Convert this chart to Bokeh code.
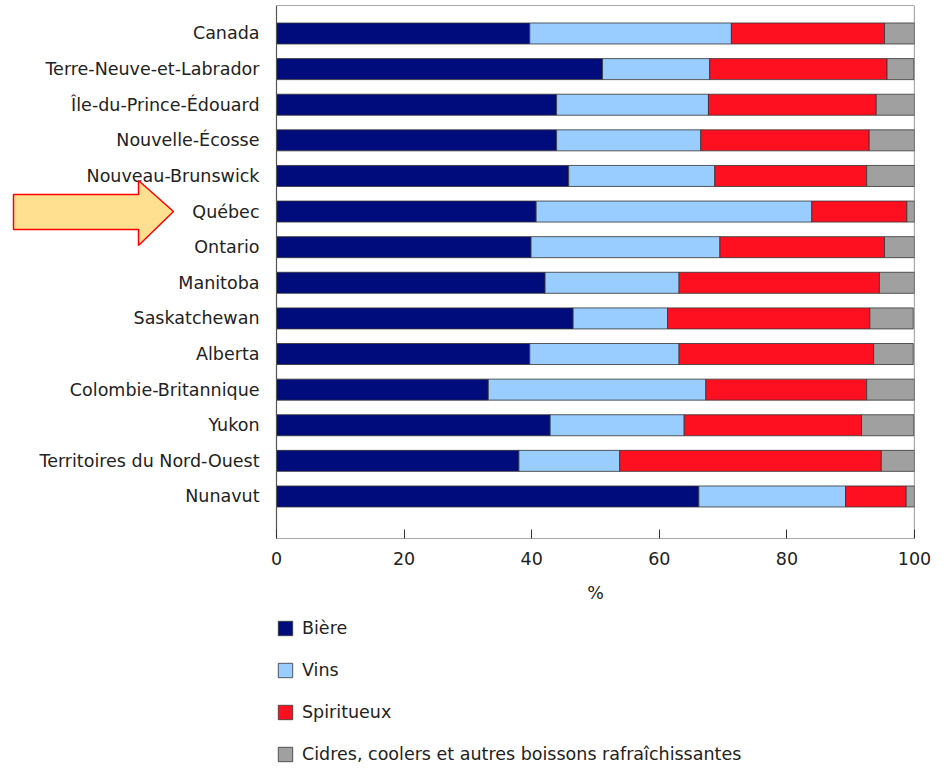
from bokeh.plotting import figure
from bokeh.layouts import column
from bokeh.models import (Range1d, FixedTicker, Legend, LegendItem, ColumnDataSource,
                          LinearAxis)
from bokeh.core.properties import value
from bokeh.embed import file_html
from bokeh.resources import INLINE

regions = ["Canada", "Terre-Neuve-et-Labrador", "Île-du-Prince-Édouard",
           "Nouvelle-Écosse", "Nouveau-Brunswick", "Québec", "Ontario", "Manitoba",
           "Saskatchewan", "Alberta", "Colombie-Britannique", "Yukon",
           "Territoires du Nord-Ouest", "Nunavut"]
biere = [39.7, 51.1, 43.9, 43.9, 45.8, 40.7, 39.9, 42.1, 46.5, 39.7, 33.2, 42.9, 38.0, 66.2]
vins = [31.6, 16.8, 23.8, 22.6, 22.9, 43.2, 29.6, 21.0, 14.8, 23.4, 34.1, 21.0, 15.8, 23.0]
spiritueux = [24.0, 27.8, 26.3, 26.4, 23.8, 14.9, 25.8, 31.4, 31.7, 30.5, 25.2, 27.8, 41.0, 9.5]
autres = [4.7, 4.2, 6.0, 7.1, 7.5, 1.2, 4.7, 5.5, 6.8, 6.2, 7.5, 8.2, 5.2, 1.3]
series_labels = ["Bière", "Vins", "Spiritueux",
                 "Cidres, coolers et autres boissons rafraîchissantes"]
x_ticks = [0, 20, 40, 60, 80, 100]
x_label = "%"
highlight = "Québec"

colors = ["#000C7B", "#99CCFF", "#FF1020", "#A0A0A0"]
FONT = "DejaVu Sans"
FS = "17.5px"
TXT = "#222222"

# ---- geometry (pixels) ----
FRAME_TOP = 5
LEFT_GUTTER = 276        # where 0 % sits
PLOT_W = 638             # width of the 0-100 % box
RIGHT_PAD = 18
FRAME_H = 533
PAD_TOP, PAD_BOTTOM = 0.786, 1.18
TOTAL_W = LEFT_GUTTER + PLOT_W + RIGHT_PAD

n = len(regions)
pos = list(range(n))
src = ColumnDataSource(dict(y=pos, biere=biere, vins=vins, spiritueux=spiritueux,
                            autres=autres))

x_start = -100.0 * LEFT_GUTTER / PLOT_W
y_top, y_bot = -PAD_TOP, n - 1 + PAD_BOTTOM

p = figure(width=TOTAL_W, frame_height=FRAME_H,
           output_backend="svg", toolbar_location=None,
           x_range=Range1d(x_start, 100), y_range=Range1d(y_bot, y_top),
           y_axis_location=None,
           min_border_left=0, min_border_right=RIGHT_PAD, min_border_top=FRAME_TOP,
           min_border_bottom=72)
p.grid.visible = False
p.outline_line_color = None

rs = p.hbar_stack(["biere", "vins", "spiritueux", "autres"], y="y", height=0.59,
                  fill_color=colors, line_color="#333333", line_width=0.8, source=src)

# box around the 0-100 area
p.quad(left=[0], right=[100], top=[y_top], bottom=[y_bot], fill_color=None,
       line_color="#555555", line_width=1.2)

# category labels
p.text(x=[0] * n, y=pos, text=regions, x_offset=-17, text_align="right",
       text_baseline="middle", text_font=value(FONT), text_font_size=value(FS),
       text_color=TXT)

# arrow pointing at the highlighted row (pixel geometry -> data units)
def px_x(v):
    return (v - LEFT_GUTTER) * 100.0 / PLOT_W

row_px = FRAME_H / (n - 1 + PAD_TOP + PAD_BOTTOM)
hy = regions.index(highlight)

def px_dy(d):
    return d / row_px

ax = [13, 138, 138, 173, 138, 138, 13]
ady = [-17, -17, -31, 0, 34, 18, 18]
p.patch(x=[px_x(v) for v in ax], y=[hy + px_dy(d) for d in ady],
        fill_color="#FFDF90", line_color="#FF0000", line_width=1.5)

xa = p.xaxis[0]
xa.ticker = FixedTicker(ticks=x_ticks)
xa.major_tick_in = 9
xa.major_tick_out = 0
xa.major_tick_line_color = "#333333"
xa.minor_tick_line_color = None
xa.axis_line_color = None
xa.major_label_text_font = FONT
xa.major_label_text_font_size = FS
xa.major_label_text_color = TXT
xa.major_label_standoff = 13

# axis title "%" centred under the 0-100 box (second, tick-less axis)
mid = (x_ticks[0] + x_ticks[-1]) / 2
title_axis = LinearAxis(ticker=FixedTicker(ticks=[mid]),
                        major_label_overrides={mid: x_label})
title_axis.major_tick_in = 0
title_axis.major_tick_out = 0
title_axis.minor_tick_line_color = None
title_axis.axis_line_color = None
title_axis.major_label_standoff = 15
title_axis.major_label_text_font = FONT
title_axis.major_label_text_font_size = FS
title_axis.major_label_text_color = TXT
p.add_layout(title_axis, "below")

# ---- legend panel below ----
p2 = figure(width=TOTAL_W, height=157, output_backend="svg",
            toolbar_location=None, x_range=Range1d(0, 1), y_range=Range1d(0, 1),
            x_axis_type=None, y_axis_type=None,
            min_border_left=0, min_border_right=RIGHT_PAD, min_border_top=0,
            min_border_bottom=0)
p2.outline_line_color = None
p2.grid.visible = False
dummies = [p2.rect(x=[-5], y=[-5], width=0.1, height=0.1, fill_color=c,
                   line_color="#333333", line_width=0.8) for c in colors]
legend = Legend(items=[LegendItem(label=lab, renderers=[r])
                       for lab, r in zip(series_labels, dummies)],
                location=(LEFT_GUTTER, 3), orientation="vertical")
legend.border_line_color = None
legend.background_fill_alpha = 0
legend.padding = 0
legend.margin = 0
legend.spacing = 22
legend.glyph_height = 18
legend.glyph_width = 18
legend.label_height = 18
legend.label_standoff = 8
legend.label_text_font = FONT
legend.label_text_font_size = FS
legend.label_text_color = TXT
legend.label_text_baseline = "middle"
p2.add_layout(legend)

open("out.html", "w").write(file_html(column(p, p2), INLINE))
